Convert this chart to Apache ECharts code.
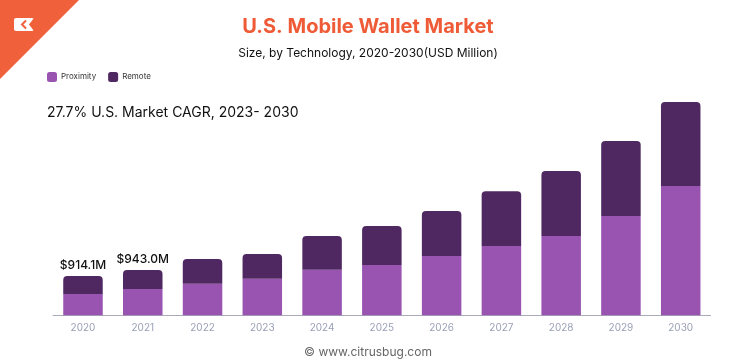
<!DOCTYPE html>
<html><head><meta charset="utf-8">
<script src="https://cdn.jsdelivr.net/npm/echarts@6/dist/echarts.min.js"></script>
<style>html,body{margin:0;padding:0;background:#fff}#c{width:736px;height:364px}</style>
</head><body><div id="c"></div>
<script>
const years = ['2020','2021','2022','2023','2024','2025','2026','2027','2028','2029','2030'];
const proximity = [495, 612, 735, 851, 1061, 1170, 1379, 1612, 1844, 2310, 3008];
const remote = [419, 442, 575, 575, 784, 907, 1047, 1272, 1512, 1745, 1954];
const valueLabels = ['$914.1M', '$943.0M', '', '', '', '', '', '', '', '', ''];

const FONT = 'Inter, "Noto Sans", sans-serif';
const chart = echarts.init(document.getElementById('c'));
chart.setOption({
  animation: false,
  backgroundColor: '#fff',
  title: [
    {text: 'U.S. Mobile Wallet Market', left: 'center', top: 12,
     textStyle: {fontFamily: FONT, fontSize: 20, fontWeight: 'bold', color: '#EE5B36'}},
    {text: 'Size, by Technology, 2020-2030(USD Million)', left: 'center', top: 42,
     textStyle: {fontFamily: FONT, fontSize: 12, fontWeight: 'normal', color: '#111'}},
    {text: '27.7% U.S. Market CAGR, 2023- 2030', left: 42, top: 101,
     textStyle: {fontFamily: FONT, fontSize: 14, fontWeight: 'normal', color: '#111'}},
    {text: '© www.citrusbug.com', left: 'center', top: 341,
     textStyle: {fontFamily: FONT, fontSize: 12, fontWeight: 'normal', color: '#666'}}
  ],
  legend: {
    left: 42, top: 67, itemWidth: 10, itemHeight: 10, itemGap: 12,
    icon: 'roundRect',
    textStyle: {fontFamily: FONT, fontSize: 8, color: '#333', padding: [0,0,0,-1]},
    data: ['Proximity', 'Remote']
  },
  grid: {left: 53.1, right: 25.4, top: 100.3, bottom: 48.7},
  xAxis: {
    type: 'category', data: years,
    axisLine: {lineStyle: {color: '#a9abb8', width: 1}},
    axisTick: {show: false},
    axisLabel: {fontFamily: FONT, fontSize: 10, color: '#9aa0b6', margin: 8}
  },
  yAxis: {type: 'value', min: 0, max: 5000, show: false, splitLine: {show: false}},
  series: [
    {name: 'Proximity', type: 'bar', stack: 't', data: proximity, barWidth: 39.5,
     itemStyle: {color: '#9854B0'}},
    {name: 'Remote', type: 'bar', stack: 't', data: remote, barWidth: 39.5,
     itemStyle: {color: '#4F2861', borderRadius: [4,4,0,0]},
     label: {show: true, position: 'top', distance: 5,
       formatter: p => valueLabels[p.dataIndex],
       fontFamily: FONT, fontSize: 12, fontWeight: 500, color: '#111'}}
  ],
  graphic: [
    {type: 'polygon', shape: {points: [[0,0],[79,0],[0,79]]}, style: {fill: '#F0603A'}},
    {type: 'rect', shape: {x: 14, y: 18, width: 20, height: 13, r: 2}, style: {fill: '#fff'}},
    {type: 'polygon', shape: {points: [[34,18],[29,24.5],[34,31]]}, style: {fill: '#F0603A'}},
    {type: 'polyline', shape: {points: [[26,20.5],[22,24.5],[26,28.5]]}, style: {stroke: '#F0603A', lineWidth: 2, fill: null}}
  ]
});
</script></body></html>
